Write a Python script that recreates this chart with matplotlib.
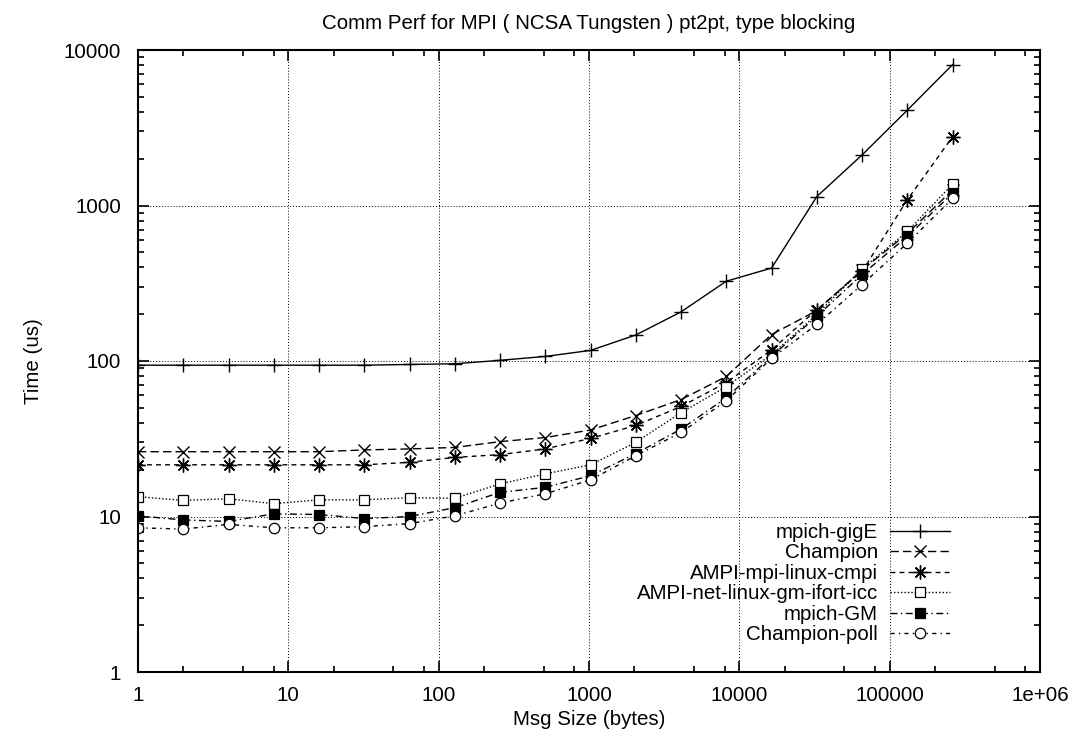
import numpy as np
import matplotlib
matplotlib.use("Agg")
import matplotlib.pyplot as plt
from matplotlib.ticker import FixedLocator, FixedFormatter, NullFormatter

plt.rcParams['font.family'] = ['Liberation Sans', 'DejaVu Sans']

msg_sizes = [2 ** k for k in range(19)]

mpich_gige = [94, 94, 94, 94, 94, 94, 95, 96, 101, 107, 117, 147, 207, 326, 396, 1142, 2114, 4103, 8054]
champion = [26.1, 26.1, 26.1, 26.1, 26.1, 26.8, 27.2, 27.8, 30.3, 32.2, 36.0, 44.6, 56.5, 79.5, 148, 211, 385, 660, 1260]
ampi_mpi_cmpi = [21.5, 21.5, 21.5, 21.5, 21.5, 21.5, 22.3, 24.0, 25.0, 27.2, 31.8, 38.5, 51.0, 72.6, 118, 214, 377, 1088, 2768]
ampi_net_gm = [13.4, 12.7, 13.0, 12.1, 12.8, 12.8, 13.2, 13.1, 16.2, 18.8, 21.5, 30.0, 46.5, 68.5, 110, 199, 391, 681, 1370]
mpich_gm = [10.1, 9.5, 9.3, 10.4, 10.3, 9.7, 10.0, 11.4, 14.3, 15.4, 18.3, 25.4, 36.5, 58.0, 107, 194, 360, 633, 1199]
champion_poll = [8.46, 8.3, 8.9, 8.46, 8.46, 8.6, 9.0, 10.1, 12.2, 14.0, 17.2, 24.6, 34.7, 55.5, 104, 172, 310, 573, 1110]

series_labels = ["mpich-gigE", "Champion", "AMPI-mpi-linux-cmpi",
                 "AMPI-net-linux-gm-ifort-icc", "mpich-GM", "Champion-poll"]

x_tick_vals = [1, 10, 100, 1000, 10000, 100000, 1000000]
x_tick_labels = ["1", "10", "100", "1000", "10000", "100000", "1e+06"]
y_tick_vals = [1, 10, 100, 1000, 10000]
y_tick_labels = ["1", "10", "100", "1000", "10000"]

FS = 14.8

W, H = 1091, 738
fig = plt.figure(figsize=(W / 100, H / 100), dpi=100)
ax = fig.add_axes([138 / W, 1 - 672 / H, (1040 - 138) / W, (672 - 50) / H])

styles = [
    dict(linestyle='-', marker='+', ms=10, mew=1.0, mfc='none'),
    dict(linestyle=(0, (6, 3)), marker='x', ms=8, mew=1.0, mfc='none'),
    dict(linestyle=(0, (3.5, 3)), marker=(8, 2, 0), ms=10, mew=1.0, mfc='none'),
    dict(linestyle=(0, (1, 1.5)), marker='s', ms=7.5, mew=0.9, mfc='white'),
    dict(linestyle=(0, (5, 2.5, 1, 2.5)), marker='s', ms=7.5, mew=0.9, mfc='black'),
    dict(linestyle=(0, (3, 3, 1, 3)), marker='o', ms=7.5, mew=0.9, mfc='white'),
]
series = [mpich_gige, champion, ampi_mpi_cmpi, ampi_net_gm, mpich_gm, champion_poll]

for ys, lab, st in zip(series, series_labels, styles):
    ax.plot(msg_sizes, ys, color='black', lw=1.0, mec='black', label=lab, **st)

ax.set_xscale('log')
ax.set_yscale('log')
ax.set_xlim(1, 1e6)
ax.set_ylim(1, 10000)

ax.xaxis.set_major_locator(FixedLocator(x_tick_vals))
ax.xaxis.set_major_formatter(FixedFormatter(x_tick_labels))
ax.yaxis.set_major_locator(FixedLocator(y_tick_vals))
ax.yaxis.set_major_formatter(FixedFormatter(y_tick_labels))

xminor = [m * 10 ** d for d in range(6) for m in (2, 5, 8)]
yminor = [m * 10 ** d for d in range(4) for m in range(2, 10)]
ax.xaxis.set_minor_locator(FixedLocator(xminor))
ax.yaxis.set_minor_locator(FixedLocator(yminor))
ax.xaxis.set_minor_formatter(NullFormatter())
ax.yaxis.set_minor_formatter(NullFormatter())

ax.tick_params(which='both', direction='in', top=True, right=True, width=1.2, labelsize=FS, colors='black')
ax.tick_params(which='major', length=8)
ax.tick_params(axis='y', which='major', pad=12)
ax.tick_params(axis='x', which='major', pad=10)
ax.tick_params(which='minor', length=4)
for s in ax.spines.values():
    s.set_linewidth(1.5)

ax.grid(True, which='major', linestyle=(0, (1, 2)), color='black', lw=0.7)

ax.set_title("Comm Perf for MPI ( NCSA Tungsten ) pt2pt, type blocking", fontsize=FS, pad=15)
ax.set_xlabel("Msg Size (bytes)", fontsize=FS, labelpad=4)
ax.set_ylabel("Time (us)", fontsize=FS, labelpad=15)

leg = ax.legend(loc='upper right', bbox_to_anchor=(950 / W, 1 - 523 / H), bbox_transform=fig.transFigure,
                frameon=False, markerfirst=False, fontsize=FS, handlelength=2.9, handletextpad=0.6,
                labelspacing=0.07, borderpad=0, borderaxespad=0)

fig.savefig("out.png", dpi=100)
